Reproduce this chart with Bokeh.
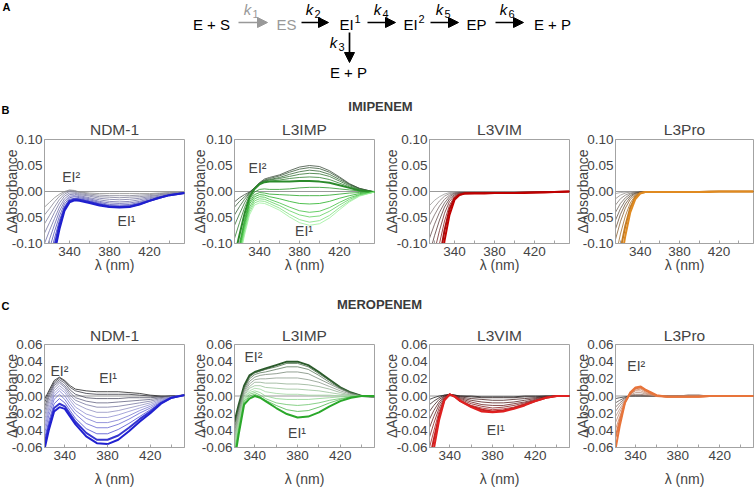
from bokeh.plotting import figure
from bokeh.layouts import column, row
from bokeh.models import (Range1d, FixedTicker, NumeralTickFormatter, Span, Label,
                          Arrow, NormalHead, ColumnDataSource)
from bokeh.embed import file_html
from bokeh.resources import INLINE

FONT = "Liberation Sans"

# ---------------- data ----------------
WL_B = [315, 320, 325, 330, 335, 340, 345, 350, 360, 370, 380, 390, 400, 410, 420, 430, 440, 455]
WL_C = [321, 325, 330, 335, 340, 345, 350, 360, 370, 380, 390, 400, 410, 420, 430, 440, 452]
X_TICKS = [340, 380, 420]
Y_TICKS_B = [-0.10, -0.05, 0.0, 0.05, 0.10]
Y_TICKS_C = [-0.06, -0.04, -0.02, 0.0, 0.02, 0.04, 0.06]
ENZYMES = ["NDM-1", "L3IMP", "L3VIM", "L3Pro"]

NDM1_IMI = [
    [-0.030, -0.021, -0.012, -0.005, 0.000, 0.003, 0.002, -0.001, -0.003, -0.004, -0.004, -0.004, -0.004, -0.004, -0.004, -0.003, -0.002, -0.002],
    [-0.045, -0.033, -0.020, -0.009, -0.002, 0.002, 0.001, -0.002, -0.005, -0.007, -0.008, -0.008, -0.008, -0.007, -0.006, -0.004, -0.003, -0.002],
    [-0.062, -0.046, -0.030, -0.015, -0.005, 0.000, -0.001, -0.004, -0.007, -0.010, -0.011, -0.012, -0.011, -0.010, -0.008, -0.006, -0.004, -0.002],
    [-0.080, -0.060, -0.040, -0.022, -0.009, -0.003, -0.003, -0.006, -0.009, -0.013, -0.015, -0.016, -0.015, -0.013, -0.010, -0.007, -0.005, -0.003],
    [-0.100, -0.075, -0.052, -0.030, -0.014, -0.006, -0.005, -0.008, -0.012, -0.016, -0.019, -0.020, -0.019, -0.016, -0.012, -0.009, -0.006, -0.003],
    [-0.122, -0.092, -0.064, -0.038, -0.019, -0.009, -0.008, -0.010, -0.014, -0.019, -0.022, -0.023, -0.022, -0.019, -0.014, -0.010, -0.006, -0.003],
    [-0.145, -0.110, -0.077, -0.047, -0.024, -0.012, -0.010, -0.012, -0.016, -0.021, -0.025, -0.026, -0.025, -0.021, -0.016, -0.011, -0.007, -0.003],
    [-0.170, -0.128, -0.090, -0.055, -0.029, -0.015, -0.013, -0.014, -0.018, -0.023, -0.027, -0.028, -0.027, -0.023, -0.017, -0.011, -0.007, -0.003],
    [-0.195, -0.148, -0.104, -0.063, -0.033, -0.018, -0.015, -0.016, -0.020, -0.025, -0.029, -0.030, -0.029, -0.024, -0.018, -0.012, -0.007, -0.003],
    [-0.220, -0.168, -0.118, -0.072, -0.037, -0.021, -0.017, -0.018, -0.022, -0.027, -0.030, -0.031, -0.030, -0.025, -0.018, -0.012, -0.007, -0.003],
]

L3IMP_IMI = [
    [-0.020, -0.012, -0.006, -0.001, 0.007, 0.017, 0.024, 0.027, 0.032, 0.040, 0.047, 0.050, 0.048, 0.040, 0.028, 0.015, 0.006, -0.001],
    [-0.030, -0.019, -0.010, -0.002, 0.007, 0.016, 0.022, 0.025, 0.030, 0.037, 0.043, 0.046, 0.044, 0.037, 0.026, 0.014, 0.006, -0.001],
    [-0.045, -0.029, -0.015, -0.003, 0.007, 0.016, 0.021, 0.023, 0.027, 0.033, 0.038, 0.041, 0.039, 0.033, 0.023, 0.013, 0.005, -0.001],
    [-0.065, -0.043, -0.022, -0.005, 0.006, 0.015, 0.020, 0.022, 0.025, 0.029, 0.033, 0.035, 0.034, 0.029, 0.020, 0.011, 0.004, -0.001],
    [-0.090, -0.060, -0.031, -0.008, 0.006, 0.015, 0.019, 0.020, 0.022, 0.025, 0.027, 0.028, 0.027, 0.023, 0.016, 0.009, 0.003, -0.001],
    [-0.125, -0.083, -0.043, -0.011, 0.005, 0.014, 0.018, 0.019, 0.019, 0.019, 0.020, 0.020, 0.019, 0.017, 0.012, 0.007, 0.002, -0.001],
    [-0.150, -0.100, -0.054, -0.016, -0.001, 0.004, 0.005, 0.004, 0.004, 0.005, 0.007, 0.008, 0.008, 0.007, 0.005, 0.003, 0.001, -0.001],
    [-0.155, -0.105, -0.059, -0.020, -0.006, -0.002, -0.003, -0.005, -0.006, -0.007, -0.008, -0.008, -0.008, -0.007, -0.005, -0.003, -0.002, -0.001],
    [-0.160, -0.110, -0.064, -0.024, -0.010, -0.006, -0.007, -0.010, -0.014, -0.019, -0.023, -0.024, -0.023, -0.019, -0.013, -0.008, -0.004, -0.001],
    [-0.165, -0.115, -0.069, -0.030, -0.014, -0.010, -0.011, -0.015, -0.022, -0.030, -0.037, -0.040, -0.038, -0.031, -0.021, -0.012, -0.006, -0.001],
    [-0.170, -0.120, -0.074, -0.035, -0.018, -0.014, -0.015, -0.019, -0.027, -0.037, -0.045, -0.049, -0.047, -0.038, -0.026, -0.015, -0.007, -0.001],
    [-0.175, -0.125, -0.079, -0.040, -0.022, -0.018, -0.019, -0.023, -0.032, -0.044, -0.054, -0.059, -0.056, -0.046, -0.031, -0.018, -0.008, -0.001],
    [-0.180, -0.130, -0.084, -0.045, -0.026, -0.022, -0.023, -0.027, -0.036, -0.049, -0.060, -0.065, -0.062, -0.051, -0.035, -0.020, -0.009, -0.001],
]

L3VIM_IMI = [
    [-0.027, -0.017, -0.010, -0.005, -0.002, -0.001, -0.001, -0.001, -0.001, -0.001, -0.001, -0.001, -0.001, -0.001, -0.001, 0.000, 0.000, 0.000],
    [-0.045, -0.030, -0.018, -0.009, -0.004, -0.002, -0.001, -0.001, -0.001, -0.001, -0.001, -0.001, -0.001, -0.001, -0.001, -0.001, 0.000, 0.000],
    [-0.065, -0.045, -0.028, -0.015, -0.007, -0.003, -0.002, -0.002, -0.002, -0.002, -0.002, -0.002, -0.002, -0.001, -0.001, -0.001, 0.000, 0.000],
    [-0.090, -0.063, -0.040, -0.022, -0.010, -0.004, -0.002, -0.002, -0.002, -0.002, -0.002, -0.002, -0.002, -0.002, -0.001, -0.001, -0.001, 0.000],
    [-0.120, -0.085, -0.055, -0.030, -0.014, -0.006, -0.003, -0.002, -0.002, -0.002, -0.002, -0.002, -0.002, -0.002, -0.001, -0.001, -0.001, 0.000],
    [-0.160, -0.115, -0.075, -0.042, -0.019, -0.008, -0.004, -0.003, -0.003, -0.003, -0.003, -0.003, -0.002, -0.002, -0.002, -0.001, -0.001, 0.000],
    [-0.200, -0.150, -0.100, -0.057, -0.026, -0.010, -0.005, -0.003, -0.003, -0.003, -0.003, -0.003, -0.003, -0.002, -0.002, -0.001, -0.001, 0.000],
    [-0.250, -0.190, -0.130, -0.075, -0.034, -0.013, -0.006, -0.004, -0.003, -0.003, -0.003, -0.003, -0.003, -0.002, -0.002, -0.001, -0.001, 0.000],
    [-0.300, -0.230, -0.160, -0.095, -0.045, -0.016, -0.007, -0.004, -0.004, -0.004, -0.003, -0.003, -0.003, -0.003, -0.002, -0.002, -0.001, 0.000],
]

L3PRO_IMI = [
    [-0.004, -0.002, -0.001, 0.000, 0.000, 0.000, 0.000, 0.000, 0.000, 0.000, 0.000, 0.000, 0.000, 0.000, 0.000, 0.000, 0.000, 0.000],
    [-0.014, -0.007, -0.003, -0.001, 0.000, 0.000, 0.000, 0.000, 0.000, 0.000, 0.000, 0.000, 0.000, 0.000, 0.000, 0.000, 0.000, 0.000],
    [-0.026, -0.014, -0.007, -0.003, -0.001, 0.000, 0.000, 0.000, 0.000, 0.000, 0.000, 0.000, 0.000, 0.000, 0.000, 0.000, 0.000, 0.000],
    [-0.040, -0.023, -0.012, -0.005, -0.002, -0.001, 0.000, 0.000, 0.000, 0.000, 0.000, 0.000, 0.000, 0.000, 0.000, 0.000, 0.000, 0.000],
    [-0.055, -0.033, -0.017, -0.008, -0.003, -0.001, 0.000, 0.000, 0.000, 0.000, 0.000, 0.000, 0.000, 0.000, 0.000, 0.000, 0.000, 0.000],
    [-0.072, -0.044, -0.024, -0.011, -0.004, -0.001, 0.000, 0.000, 0.000, 0.000, 0.000, 0.000, 0.000, 0.000, 0.000, 0.000, 0.000, 0.000],
    [-0.092, -0.058, -0.032, -0.015, -0.006, -0.002, -0.001, 0.000, 0.000, 0.000, 0.000, 0.000, 0.000, 0.000, 0.000, 0.000, 0.000, 0.000],
    [-0.125, -0.082, -0.047, -0.022, -0.008, -0.002, -0.001, -0.001, 0.000, 0.000, 0.000, 0.000, 0.000, 0.000, 0.000, 0.000, 0.000, 0.000],
    [-0.165, -0.112, -0.066, -0.031, -0.011, -0.003, -0.001, -0.001, -0.001, -0.001, -0.001, -0.001, -0.001, 0.000, 0.000, 0.000, 0.000, 0.000],
    [-0.200, -0.140, -0.085, -0.040, -0.015, -0.004, -0.001, -0.001, -0.001, -0.001, -0.001, -0.001, -0.001, -0.001, 0.000, 0.000, 0.000, 0.000],
]

NDM1_MERO = [
    [-0.004, 0.006, 0.018, 0.022, 0.018, 0.012, 0.008, 0.006, 0.005, 0.005, 0.005, 0.004, 0.003, 0.001, 0.000, 0.000, 0.001],
    [-0.008, 0.004, 0.016, 0.021, 0.017, 0.010, 0.006, 0.003, 0.002, 0.002, 0.002, 0.002, 0.001, 0.000, -0.001, 0.000, 0.001],
    [-0.013, 0.001, 0.014, 0.019, 0.015, 0.007, 0.002, -0.002, -0.003, -0.003, -0.003, -0.002, -0.002, -0.002, -0.001, 0.000, 0.001],
    [-0.018, -0.002, 0.012, 0.017, 0.012, 0.004, -0.002, -0.006, -0.008, -0.008, -0.007, -0.006, -0.005, -0.004, -0.002, 0.000, 0.001],
    [-0.023, -0.006, 0.009, 0.015, 0.010, 0.001, -0.005, -0.010, -0.013, -0.013, -0.012, -0.010, -0.008, -0.006, -0.003, -0.001, 0.001],
    [-0.028, -0.010, 0.006, 0.012, 0.007, -0.002, -0.009, -0.015, -0.019, -0.019, -0.017, -0.014, -0.011, -0.008, -0.004, -0.001, 0.001],
    [-0.033, -0.014, 0.003, 0.009, 0.004, -0.005, -0.013, -0.021, -0.025, -0.025, -0.022, -0.018, -0.014, -0.010, -0.005, -0.001, 0.001],
    [-0.038, -0.018, 0.000, 0.006, 0.000, -0.009, -0.017, -0.026, -0.031, -0.031, -0.028, -0.023, -0.017, -0.012, -0.006, -0.001, 0.001],
    [-0.044, -0.023, -0.004, 0.002, -0.004, -0.013, -0.021, -0.032, -0.037, -0.037, -0.033, -0.027, -0.020, -0.014, -0.007, -0.002, 0.001],
    [-0.050, -0.029, -0.009, -0.003, -0.008, -0.017, -0.026, -0.038, -0.044, -0.044, -0.039, -0.032, -0.024, -0.016, -0.008, -0.002, 0.001],
    [-0.056, -0.035, -0.014, -0.009, -0.012, -0.021, -0.030, -0.043, -0.051, -0.051, -0.046, -0.037, -0.027, -0.018, -0.008, -0.002, 0.001],
    [-0.062, -0.040, -0.018, -0.013, -0.015, -0.024, -0.033, -0.047, -0.055, -0.056, -0.051, -0.041, -0.030, -0.020, -0.009, -0.002, 0.001],
]

L3IMP_MERO = [
    [-0.030, -0.010, 0.012, 0.024, 0.028, 0.030, 0.032, 0.036, 0.040, 0.040, 0.036, 0.028, 0.019, 0.010, 0.004, 0.000, -0.001],
    [-0.034, -0.013, 0.010, 0.022, 0.027, 0.029, 0.031, 0.034, 0.038, 0.038, 0.034, 0.026, 0.018, 0.010, 0.004, 0.000, -0.001],
    [-0.038, -0.016, 0.008, 0.020, 0.025, 0.027, 0.028, 0.031, 0.034, 0.034, 0.031, 0.024, 0.016, 0.009, 0.003, 0.000, -0.001],
    [-0.042, -0.019, 0.006, 0.017, 0.022, 0.024, 0.025, 0.026, 0.028, 0.028, 0.026, 0.020, 0.014, 0.008, 0.003, 0.000, -0.001],
    [-0.046, -0.022, 0.004, 0.014, 0.019, 0.020, 0.020, 0.021, 0.021, 0.021, 0.019, 0.016, 0.011, 0.006, 0.002, 0.000, -0.001],
    [-0.050, -0.025, 0.002, 0.011, 0.016, 0.016, 0.015, 0.015, 0.014, 0.014, 0.013, 0.011, 0.008, 0.004, 0.001, 0.000, -0.001],
    [-0.054, -0.028, 0.000, 0.009, 0.012, 0.012, 0.010, 0.009, 0.008, 0.008, 0.007, 0.006, 0.004, 0.002, 0.001, 0.000, 0.000],
    [-0.058, -0.031, -0.002, 0.006, 0.009, 0.008, 0.005, 0.003, 0.002, 0.002, 0.001, 0.001, 0.001, 0.000, 0.000, 0.000, 0.000],
    [-0.062, -0.034, -0.004, 0.004, 0.006, 0.004, 0.000, -0.003, -0.004, -0.004, -0.004, -0.003, -0.002, -0.001, 0.000, 0.000, 0.000],
    [-0.066, -0.037, -0.006, 0.002, 0.004, 0.001, -0.003, -0.008, -0.010, -0.011, -0.010, -0.008, -0.005, -0.003, -0.001, 0.000, 0.000],
    [-0.070, -0.040, -0.008, 0.000, 0.002, -0.001, -0.005, -0.011, -0.016, -0.018, -0.017, -0.013, -0.008, -0.004, -0.001, 0.000, 0.000],
    [-0.075, -0.044, -0.010, -0.003, 0.000, -0.002, -0.006, -0.014, -0.021, -0.025, -0.024, -0.019, -0.012, -0.006, -0.002, 0.000, 0.000],
]

L3VIM_MERO = [
    [-0.004, -0.002, 0.000, 0.001, 0.001, 0.000, 0.000, 0.000, -0.001, -0.001, -0.001, -0.001, 0.000, 0.000, 0.000, 0.000, 0.000],
    [-0.010, -0.006, -0.002, 0.001, 0.002, 0.001, 0.000, -0.001, -0.002, -0.002, -0.002, -0.002, -0.001, -0.001, 0.000, 0.000, 0.000],
    [-0.018, -0.011, -0.004, 0.000, 0.002, 0.001, -0.001, -0.003, -0.004, -0.005, -0.005, -0.004, -0.003, -0.002, -0.001, 0.000, 0.000],
    [-0.027, -0.017, -0.007, 0.000, 0.002, 0.000, -0.002, -0.005, -0.007, -0.008, -0.008, -0.007, -0.005, -0.003, -0.001, 0.000, 0.000],
    [-0.037, -0.024, -0.010, -0.001, 0.002, 0.000, -0.003, -0.007, -0.010, -0.011, -0.011, -0.009, -0.007, -0.004, -0.001, 0.000, 0.000],
    [-0.048, -0.032, -0.014, -0.002, 0.002, 0.000, -0.004, -0.009, -0.012, -0.014, -0.013, -0.011, -0.008, -0.005, -0.002, 0.000, 0.000],
    [-0.060, -0.041, -0.018, -0.003, 0.002, -0.001, -0.005, -0.011, -0.014, -0.016, -0.015, -0.013, -0.009, -0.005, -0.002, 0.000, 0.000],
    [-0.075, -0.051, -0.023, -0.004, 0.002, -0.001, -0.006, -0.012, -0.016, -0.018, -0.017, -0.014, -0.010, -0.006, -0.002, 0.000, 0.000],
    [-0.090, -0.062, -0.028, -0.005, 0.002, -0.001, -0.006, -0.013, -0.018, -0.019, -0.018, -0.015, -0.011, -0.006, -0.002, 0.000, 0.000],
]

L3PRO_MERO = [
    [-0.003, -0.002, -0.001, 0.000, 0.000, 0.000, 0.000, 0.000, 0.000, 0.000, 0.000, 0.000, 0.000, 0.000, 0.000, 0.000, 0.000],
    [-0.008, -0.005, -0.002, 0.000, 0.000, 0.000, 0.000, 0.000, 0.000, 0.000, 0.000, 0.000, 0.000, 0.000, 0.000, 0.000, 0.000],
    [-0.013, -0.008, -0.003, 0.000, 0.001, 0.001, 0.000, 0.000, 0.000, 0.000, 0.001, 0.001, 0.000, 0.000, 0.000, 0.000, 0.000],
    [-0.018, -0.011, -0.004, 0.001, 0.002, 0.002, 0.001, 0.000, 0.000, 0.000, 0.001, 0.001, 0.000, 0.000, 0.000, 0.000, 0.000],
    [-0.024, -0.015, -0.005, 0.001, 0.004, 0.004, 0.002, 0.000, 0.000, 0.000, 0.000, 0.000, 0.000, 0.000, 0.000, 0.000, 0.000],
    [-0.031, -0.019, -0.006, 0.002, 0.006, 0.006, 0.003, 0.000, -0.001, -0.001, 0.000, 0.000, 0.000, 0.000, 0.000, 0.000, 0.000],
    [-0.039, -0.024, -0.007, 0.002, 0.007, 0.008, 0.004, 0.000, -0.001, -0.001, -0.001, 0.000, 0.000, 0.000, 0.000, 0.000, 0.000],
    [-0.048, -0.029, -0.007, 0.003, 0.009, 0.010, 0.006, 0.000, -0.001, -0.001, -0.001, -0.001, 0.000, 0.000, 0.000, 0.000, 0.000],
    [-0.062, -0.035, -0.008, 0.004, 0.010, 0.011, 0.007, 0.001, -0.001, -0.001, -0.001, -0.001, 0.000, 0.000, 0.000, 0.000, 0.000],
]

# ---------------- styling helpers ----------------
def _rgb(h):
    h = h.lstrip("#")
    return [int(h[i:i + 2], 16) for i in (0, 2, 4)]


def gradient(stops, n):
    out = []
    for i in range(n):
        t = i / (n - 1) if n > 1 else 0.0
        seg = t * (len(stops) - 1)
        k = min(int(seg), len(stops) - 2)
        f = seg - k
        a, b = _rgb(stops[k]), _rgb(stops[k + 1])
        out.append("#%02x%02x%02x" % tuple(int(round(a[j] + (b[j] - a[j]) * f)) for j in range(3)))
    return out


# figure slots: [0,188) [188,380) [380,571) [571,754)
FRAME_W = [141, 141, 141, 139]
LEFT_B = [43, 45, 48, 43]
RIGHT_B = [4, 6, 2, 1]
GREY = "#a3a3a3"
TICK_FS = "13.5px"


def panel(idx, wl, curves, stops, thick, xr, yr, yticks, top, frame_h, bottom, xlab_standoff, title_standoff, labels):
    fw = FRAME_W[idx]
    lb = LEFT_B[idx]
    p = figure(width=lb + fw + RIGHT_B[idx], height=top + frame_h + bottom,
               x_range=Range1d(*xr), y_range=Range1d(*yr),
               output_backend="svg", toolbar_location=None,
               min_border_left=lb, min_border_right=RIGHT_B[idx],
               min_border_top=top, min_border_bottom=bottom)
    p.title.text = ENZYMES[idx]
    p.title.align = "center"
    p.title.text_font = FONT
    p.title.text_font_size = "15.5px"
    p.title.text_font_style = "normal"
    p.title.standoff = title_standoff
    p.outline_line_color = GREY
    p.outline_line_width = 1
    p.xgrid.visible = False
    p.ygrid.visible = False

    p.add_layout(Span(location=0, dimension="width", line_color="#9a9a9a", line_width=1, level="underlay"))

    cols = gradient(stops, len(curves))
    widths = [2.0 if i in thick else 0.8 for i in range(len(curves))]
    src = ColumnDataSource(dict(xs=[wl] * len(curves), ys=curves, c=cols, w=widths))
    p.multi_line(xs="xs", ys="ys", line_color="c", line_width="w", source=src)

    xa = p.xaxis[0]
    xa.ticker = FixedTicker(ticks=X_TICKS, minor_ticks=[320, 360, 400, 440])
    xa.axis_label = "λ (nm)"
    xa.axis_label_text_font = FONT
    xa.axis_label_text_font_size = "14px"
    xa.axis_label_text_font_style = "normal"
    xa.axis_label_standoff = xlab_standoff
    xa.major_label_text_font = FONT
    xa.major_label_text_font_size = TICK_FS
    xa.major_label_standoff = 3
    xa.major_tick_out = 0
    xa.major_tick_in = 3
    xa.minor_tick_out = 0
    xa.minor_tick_in = 3
    xa.major_tick_line_color = GREY
    xa.minor_tick_line_color = GREY
    xa.axis_line_color = GREY

    ya = p.yaxis[0]
    ya.ticker = FixedTicker(ticks=yticks, minor_ticks=[])
    ya.formatter = NumeralTickFormatter(format="0.00")
    ya.axis_label = "ΔAbsorbance"
    ya.axis_label_text_font = FONT
    ya.axis_label_text_font_size = "14px"
    ya.axis_label_text_font_style = "normal"
    # tight: the axis title shares the column of the tick labels, as in the original
    ya.axis_label_standoff = lb - 54
    ya.major_label_text_font = FONT
    ya.major_label_text_font_size = TICK_FS
    ya.major_label_standoff = 2
    ya.major_tick_out = 0
    ya.major_tick_in = 0
    ya.minor_tick_out = 0
    ya.minor_tick_in = 0
    ya.axis_line_color = GREY

    for (lx, ly, txt_) in labels:
        p.add_layout(Label(x=lx, y=ly, text=txt_, text_font=FONT, text_font_size="14px",
                           text_align="center", text_baseline="middle"))
    return p


def blank(h, y_top):
    p = figure(width=754, height=h, x_range=Range1d(0, 754), y_range=Range1d(y_top + h, y_top),
               output_backend="svg", toolbar_location=None, x_axis_type=None, y_axis_type=None,
               min_border=0, outline_line_color=None)
    p.xgrid.visible = False
    p.ygrid.visible = False
    return p


def txt(p, x, y, s, size="15px", color="black", style="normal", align="center"):
    p.add_layout(Label(x=x, y=y, text=s, text_font=FONT, text_font_size=size, text_color=color,
                       text_font_style=style, text_align=align, text_baseline="middle"))


def arrow(p, x0, y0, x1, y1, color="black"):
    p.add_layout(Arrow(end=NormalHead(size=10, fill_color=color, line_color=color),
                       x_start=x0, y_start=y0, x_end=x1, y_end=y1,
                       line_color=color, line_width=1.7))


def klabel(p, cx, cy, digit, color="black"):
    txt(p, cx - 3, cy, "k", size="15px", color=color, style="italic")
    txt(p, cx + 5, cy + 4, digit, size="11px", color=color)


# ---------------- scheme (panel A) + header B ----------------
sch = blank(115, 0)
txt(sch, 2, 6, "A", size="11px", style="bold", align="left")
ROW_Y = 24
AY = 22
txt(sch, 211, ROW_Y, "E + S")
arrow(sch, 238, AY, 267, AY, color="#999999")
klabel(sch, 250, 9, "1", color="#999999")
txt(sch, 286, ROW_Y, "ES", color="#999999")
arrow(sch, 301, AY, 328, AY)
klabel(sch, 312, 9, "2")
txt(sch, 346, ROW_Y, "EI")
txt(sch, 357, ROW_Y - 6, "1", size="11px")
arrow(sch, 367, AY, 395, AY)
klabel(sch, 380, 9, "4")
txt(sch, 410, ROW_Y, "EI")
txt(sch, 421, ROW_Y - 6, "2", size="11px")
arrow(sch, 430, AY, 458, AY)
klabel(sch, 442, 9, "5")
txt(sch, 476, ROW_Y, "EP")
arrow(sch, 495, AY, 523, AY)
klabel(sch, 506, 9, "6")
txt(sch, 552, ROW_Y, "E + P")
arrow(sch, 349, 32, 349, 62)
klabel(sch, 336, 42, "3")
txt(sch, 348, 72, "E + P")
txt(sch, 1, 109, "B", size="11px", style="bold", align="left")
txt(sch, 380, 106, "IMIPENEM", size="13px", style="bold", color="#3a3a3a")

# ---------------- row B ----------------
XR_B = (315, 455)
YR_B = (-0.10, 0.10)
TB, HB, BB = 24, 104, 34
row_b = [
    panel(0, WL_B, NDM1_IMI, ["#8c8c8c", "#6a6aaa", "#1e1ecf"], [8, 9], XR_B, YR_B, Y_TICKS_B, TB, HB, BB, -2, 4,
          [(341.6, 0.027, "EI²"), (397, -0.056, "EI¹")]),
    panel(1, WL_B, L3IMP_IMI, ["#3c4c3c", "#2f7f2f", "#22b022", "#9af09a"], [5], XR_B, YR_B, Y_TICKS_B, TB, HB, BB, -2, 4,
          [(338, 0.046, "EI²"), (384.5, -0.075, "EI¹")]),
    panel(2, WL_B, L3VIM_IMI, ["#9a9a9a", "#5a3a3a", "#c00000"], [7, 8], XR_B, YR_B, Y_TICKS_B, TB, HB, BB, -2, 4, []),
    panel(3, WL_B, L3PRO_IMI, ["#a0a0a0", "#5a4a3a", "#e08a20"], [8, 9], XR_B, YR_B, Y_TICKS_B, TB, HB, BB, -2, 4, []),
]

# ---------------- header C ----------------
hc = blank(38, 277)
txt(hc, 1, 305, "C", size="11px", style="bold", align="left")
txt(hc, 379, 304, "MEROPENEM", size="13px", style="bold", color="#3a3a3a")

# ---------------- row C ----------------
XR_C = (321, 452)
YR_C = (-0.06, 0.06)
TC, HC, BC = 29, 103, 42
row_c = [
    panel(0, WL_C, NDM1_MERO, ["#222222", "#9a9ad0", "#2020d0"], [10, 11], XR_C, YR_C, Y_TICKS_C, TC, HC, BC, 8, 2,
          [(335, 0.029, "EI²"), (380.5, 0.021, "EI¹")]),
    panel(1, WL_C, L3IMP_MERO, ["#2a5a2a", "#8a948a", "#a0dca0", "#2aa82a"], [0, 11], XR_C, YR_C, Y_TICKS_C, TC, HC, BC, 8, 2,
          [(338.7, 0.045, "EI²"), (379.5, -0.043, "EI¹")]),
    panel(2, WL_C, L3VIM_MERO, ["#222222", "#6a2020", "#e02020"], [7, 8], XR_C, YR_C, Y_TICKS_C, TC, HC, BC, 8, 2,
          [(383, -0.040, "EI¹")]),
    panel(3, WL_C, L3PRO_MERO, ["#333333", "#b89080", "#e8743a"], [7, 8], XR_C, YR_C, Y_TICKS_C, TC, HC, BC, 8, 2,
          [(340.7, 0.035, "EI²")]),
]

layout = column(sch, row(*row_b, spacing=0), hc, row(*row_c, spacing=0), spacing=0)

open("out.html", "w").write(file_html(layout, INLINE))
